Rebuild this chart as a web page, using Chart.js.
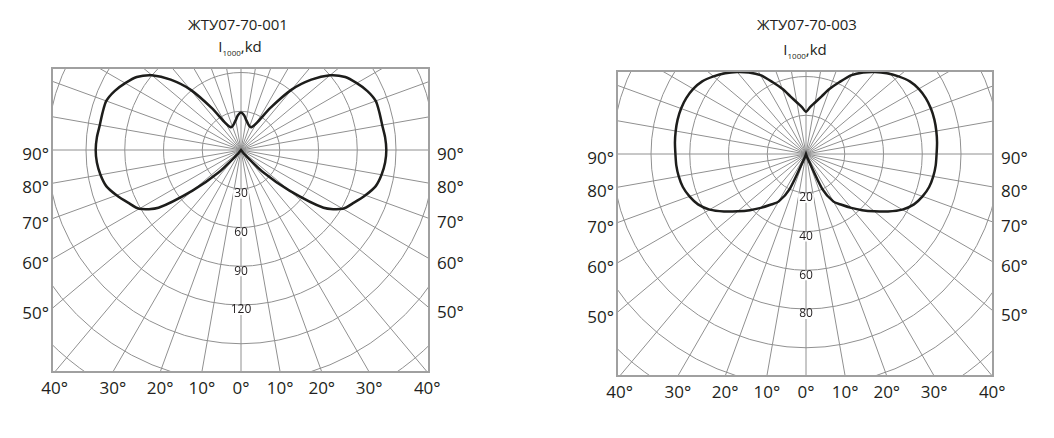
<!DOCTYPE html>
<html>
<head>
<meta charset="utf-8">
<script src="https://cdn.jsdelivr.net/npm/chart.js@4.4.1/dist/chart.umd.min.js"></script>
<style>
  body { margin: 0; width: 1054px; height: 438px; background: #fff; position: relative; overflow: hidden;
         font-family: "Open Sans", sans-serif; color: #231f20; }
  .titulo { position: absolute; font-size: 15px; line-height: 1; white-space: nowrap; transform: translate(-50%, -50%); }
  .sub { position: absolute; font-size: 15px; line-height: 1; white-space: nowrap; transform: translate(-50%, -50%); }
  .sub span { font-size: 8px; position: relative; top: 4px; }
  .moldura { position: absolute; box-sizing: border-box; border: 2px solid #a0a0a0; overflow: hidden; }
  .moldura canvas { position: absolute; }
  .grau { position: absolute; font-size: 17px; line-height: 1; white-space: nowrap; }
</style>
</head>
<body>
<div class="titulo" style="left:238px; top:24px;">ЖТУ07-70-001</div>
<div class="sub" style="left:240px; top:46px;">I<span>1000</span>,kd</div>
<div class="moldura" id="moldura-001" style="left:51px; top:67px; width:379px; height:306px;">
  <canvas id="grafico-001" width="620" height="620" style="left:-122px; top:-229px;"></canvas>
</div>

<div class="titulo" style="left:807px; top:24px;">ЖТУ07-70-003</div>
<div class="sub" style="left:805px; top:49px;">I<span>1000</span>,kd</div>
<div class="moldura" id="moldura-003" style="left:616px; top:70px; width:378px; height:307px;">
  <canvas id="grafico-003" width="620" height="620" style="left:-122px; top:-228px;"></canvas>
</div>

<script>
// angulos gama (0 = nadir, 180 = zenite), passo de 5 graus
const angulosGama = [0, 5, 10, 15, 20, 25, 30, 35, 40, 45, 50, 55, 60, 65, 70, 75, 80, 85, 90,
  95, 100, 105, 110, 115, 120, 125, 130, 135, 140, 145, 150, 155, 160, 165, 170, 175, 180];

// intensidade luminosa I1000, kd
const intensidade001 = [0, 0, 0, 0, 0, 0, 0, 0, 5, 25, 49, 78, 91, 96.5, 102.5, 108, 110.5, 112, 112.5,
  112, 111, 111, 111, 108, 103.5, 98.5, 90, 77, 61, 40, 24, 19.5, 19.5, 21, 23.5, 27, 29];
const intensidade003 = [0, 0, 0, 0, 2, 20, 28.4, 32, 36.3, 41, 46, 51.7, 57.4, 61.5, 64, 65.8, 66.7, 67.2, 67.4,
  67.9, 68.3, 68.6, 68.6, 68.2, 67.2, 65.4, 62.3, 59, 55.3, 51.4, 47, 41, 35.8, 30.7, 27, 24.3, 21.8];

const aneis001 = [30, 60, 90, 120];
const aneis003 = [20, 40, 60, 80];
const grausLaterais = [90, 80, 70, 60, 50];
const grausInferiores = [40, 30, 20, 10, 0];

const corGrade = "#909090";

// volta completa: indice 0 aponta para baixo, lado esquerdo e depois lado direito
const categoriasRadar = [];
const indiceGama = [];
for (let i = 0; i < 72; i++) {
  const g = i <= 36 ? i * 5 : 360 - i * 5;
  categoriasRadar.push(String(g));
  indiceGama.push(angulosGama.indexOf(g));
}

const pluginAneis = {
  id: "rotulosAneis",
  afterDraw(chart, args, opts) {
    const sc = chart.scales.r;
    const ctx = chart.ctx;
    ctx.save();
    ctx.font = '12px "Open Sans", sans-serif';
    ctx.textAlign = "center";
    ctx.textBaseline = "middle";
    opts.valores.forEach((v) => {
      const y = sc.yCenter + sc.getDistanceFromCenterForValue(v) + 5;
      const w = ctx.measureText(String(v)).width;
      ctx.fillStyle = "#fff";
      ctx.fillRect(sc.xCenter - w / 2 - 1, y - 4, w + 2, 9);
      ctx.fillStyle = "#231f20";
      ctx.fillText(String(v), sc.xCenter, y);
    });
    ctx.restore();
  },
};

function criarDiagrama(idCanvas, intensidades, passo, maximo, aneis) {
  const ctx = document.getElementById(idCanvas).getContext("2d");
  return new Chart(ctx, {
    type: "radar",
    data: {
      labels: categoriasRadar,
      datasets: [
        {
          data: indiceGama.map((k) => intensidades[k]),
          borderColor: "#1d1d1b",
          borderWidth: 2.5,
          fill: false,
          pointRadius: 0,
          tension: 0.25,
        },
      ],
    },
    options: {
      responsive: false,
      animation: false,
      layout: { padding: 0 },
      plugins: {
        legend: { display: false },
        tooltip: { enabled: false },
        rotulosAneis: { valores: aneis },
      },
      scales: {
        r: {
          min: 0,
          max: maximo,
          startAngle: 180,
          ticks: { display: false, stepSize: passo },
          pointLabels: { display: false },
          grid: { circular: true, color: corGrade, lineWidth: 1 },
          angleLines: {
            color: corGrade,
            lineWidth: (c) => (c.index % 2 === 0 ? 1 : 0),
          },
        },
      },
    },
    plugins: [pluginAneis],
  });
}

function posicionarGraus(chart, idMoldura) {
  const sc = chart.scales.r;
  const cRect = chart.canvas.getBoundingClientRect();
  const fRect = document.getElementById(idMoldura).getBoundingClientRect();
  const cx = cRect.left + sc.xCenter;
  const cy = cRect.top + sc.yCenter;
  const esq = fRect.left + 1;
  const dir = fRect.right - 1;
  const baixo = fRect.bottom - 1;

  const rotulo = (texto, x, y, tf) => {
    const el = document.createElement("div");
    el.className = "grau";
    el.textContent = texto;
    el.style.left = x + "px";
    el.style.top = y + "px";
    el.style.transform = tf;
    document.body.appendChild(el);
  };

  grausLaterais.forEach((g) => {
    const t = (g * Math.PI) / 180;
    const yE = cy + ((cx - esq) * Math.cos(t)) / Math.sin(t) + 3;
    const yD = cy + ((dir - cx) * Math.cos(t)) / Math.sin(t) + 3;
    rotulo(g + "°", esq - 3, yE, "translate(-100%, -50%)");
    rotulo(g + "°", dir + 8, yD, "translate(0, -50%)");
  });

  grausInferiores.forEach((g) => {
    const t = (g * Math.PI) / 180;
    const dx = (baixo - cy) * Math.tan(t);
    rotulo(g + "°", cx - dx, baixo + 15, "translate(-50%, -50%)");
    if (g !== 0) rotulo(g + "°", cx + dx, baixo + 15, "translate(-50%, -50%)");
  });
}

const grafico001 = criarDiagrama("grafico-001", intensidade001, 30, 240, aneis001);
const grafico003 = criarDiagrama("grafico-003", intensidade003, 20, 160, aneis003);
posicionarGraus(grafico001, "moldura-001");
posicionarGraus(grafico003, "moldura-003");
</script>
</body>
</html>
